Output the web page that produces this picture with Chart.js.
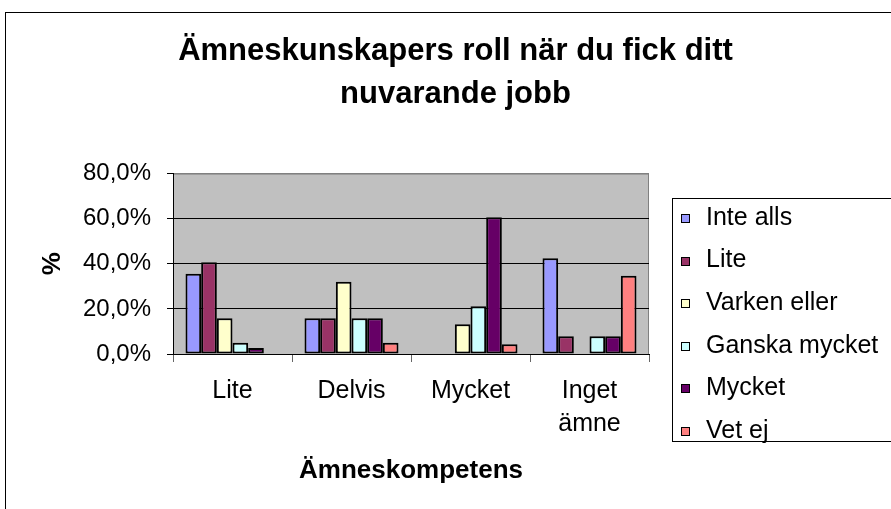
<!DOCTYPE html>
<html>
<head>
<meta charset="utf-8">
<script src="https://cdn.jsdelivr.net/npm/chart.js@4"></script>
<style>
  html, body { margin: 0; padding: 0; background: #fff; }
  #wrap { width: 891px; height: 509px; }
</style>
</head>
<body>
<div id="wrap"><canvas id="grafico" width="891" height="509"></canvas></div>
<script>
// Kategorier (x-axeln)
const kategorier = ['Lite', 'Delvis', 'Mycket', ['Inget', 'ämne']];

// Värden i procent
const inteAlls     = [35.6, 15.9, 0, 42.5];
const lite         = [40.7, 15.9, 0, 7.9];
const varkenEller  = [15.9, 32.0, 13.2, 0];
const ganskaMycket = [5.0, 15.9, 21.2, 7.9];
const mycket       = [2.7, 15.9, 60.6, 7.9];
const vetEj        = [0, 5.0, 4.3, 34.7];

const serieNamn = ['Inte alls', 'Lite', 'Varken eller', 'Ganska mycket', 'Mycket', 'Vet ej'];
const serieData = [inteAlls, lite, varkenEller, ganskaMycket, mycket, vetEj];
const farger = ['#9999FF', '#993366', '#FFFFCC', '#CCFFFF', '#660066', '#FF8080'];

const yTicks = [0, 20, 40, 60, 80];

const FONT = "'Liberation Sans', Arial, sans-serif";

// Grå bakgrund i plotytan + ram runt hela diagrammet
const bakgrund = {
  id: 'bakgrund',
  beforeDraw(chart) {
    const { ctx, chartArea: a } = chart;
    ctx.save();
    ctx.strokeStyle = '#000';
    ctx.lineWidth = 1;
    ctx.strokeRect(5.5, 12.5, 920, 540);
    ctx.fillStyle = '#C0C0C0';
    ctx.fillRect(a.left, a.top, a.right - a.left, a.bottom - a.top);
    ctx.strokeStyle = '#808080';
    ctx.strokeRect(a.left + 0.5, a.top + 0.5, a.right - a.left - 1, a.bottom - a.top);
    ctx.restore();
  }
};

// Egen förklaring med ram, som i Excel
const forklaring = {
  id: 'forklaring',
  afterDraw(chart) {
    const { ctx } = chart;
    ctx.save();
    ctx.strokeStyle = '#000';
    ctx.lineWidth = 1;
    ctx.strokeRect(672.5, 198.5, 260, 243);
    ctx.font = '25px ' + FONT;
    ctx.textBaseline = 'middle';
    ctx.textAlign = 'left';
    chart.data.datasets.forEach((ds, i) => {
      const y = 218 + i * 42.6;
      ctx.fillStyle = ds.backgroundColor;
      ctx.fillRect(681, Math.round(y) - 4, 9, 9);
      ctx.strokeStyle = '#000';
      ctx.strokeRect(681.5, Math.round(y) - 3.5, 8, 8);
      ctx.fillStyle = '#000';
      ctx.fillText(ds.label, 706, y);
    });
    ctx.restore();
  }
};

const grafico = new Chart(document.getElementById('grafico').getContext('2d'), {
  type: 'bar',
  data: {
    labels: kategorier,
    datasets: serieNamn.map((namn, i) => ({
      label: namn,
      data: serieData[i],
      backgroundColor: farger[i],
      borderColor: '#000',
      borderWidth: 2,
      borderSkipped: false,
      categoryPercentage: 0.79,
      barPercentage: 1
    }))
  },
  options: {
    responsive: false,
    animation: false,
    layout: { padding: { left: 20, top: 10, right: 0, bottom: 0 } },
    plugins: {
      legend: { display: false },
      tooltip: { enabled: false },
      title: {
        display: true,
        text: ['Ämneskunskapers roll när du fick ditt', 'nuvarande jobb'],
        color: '#000',
        font: { family: FONT, size: 31, weight: 'bold', lineHeight: 1.38 },
        padding: { top: 20.5, bottom: 57.5 }
      }
    },
    scales: {
      x: {
        afterFit: s => { s.height = 155; },
        grid: {
          offset: true,
          drawOnChartArea: false,
          drawTicks: true,
          tickLength: 8,
          color: '#666'
        },
        border: { color: '#000', width: 1 },
        ticks: {
          color: '#000',
          padding: 13,
          maxRotation: 0,
          autoSkip: false,
          font: { family: FONT, size: 25, lineHeight: 1.3 }
        },
        title: {
          display: true,
          text: 'Ämneskompetens',
          color: '#000',
          font: { family: FONT, size: 26, weight: 'bold', lineHeight: 1.2 },
          padding: { top: 0, bottom: 22.4 }
        }
      },
      y: {
        min: 0,
        max: 80,
        afterFit: s => { s.width = 153; },
        afterBuildTicks: s => { s.ticks = yTicks.map(v => ({ value: v })); },
        grid: {
          color: c => (c.tick && c.tick.value === 80 ? '#808080' : '#000'),
          tickColor: '#000',
          tickLength: 6,
          lineWidth: 1
        },
        border: { color: '#000', width: 1 },
        ticks: {
          color: '#000',
          padding: 16,
          font: { family: FONT, size: 24 },
          callback: v => v.toFixed(1).replace('.', ',') + '%'
        },
        title: {
          display: true,
          text: '%',
          color: '#000',
          font: { family: FONT, size: 26, weight: 'bold', lineHeight: 1.2 },
          padding: { top: 17, bottom: 0 }
        }
      },
      yPlats: {
        type: 'linear',
        position: 'right',
        afterFit: s => { s.width = 242; },
        grid: { display: false },
        border: { display: false },
        ticks: { display: false }
      }
    }
  },
  plugins: [bakgrund, forklaring]
});
</script>
</body>
</html>
